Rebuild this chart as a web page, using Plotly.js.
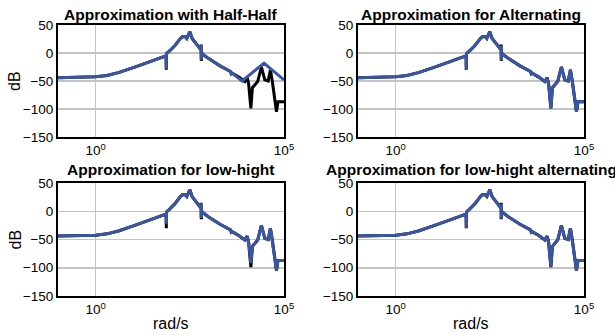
<!DOCTYPE html>
<html>
<head>
<meta charset="utf-8">
<script src="https://cdn.plot.ly/plotly-3.0.1.min.js"></script>
<style>html,body{margin:0;padding:0;background:#fff}#chart{width:615px;height:335px}</style>
</head>
<body>
<div id="chart"></div>
<script>
// Frequency grid (rad/s) for the exact response and the close approximations
const freq = [0.1, 0.316, 1, 2, 4, 10, 20, 31.6, 50, 70.8, 74, 75, 76, 89, 126, 178, 200, 240, 263, 316, 363, 501, 617, 630, 636, 650, 741, 1000, 2000, 3800, 3981, 4169, 6310, 9120, 10500, 11500, 13200, 14500, 20000, 25100, 30900, 38000, 43600, 49000, 63100, 69200, 100000];
// Exact system magnitude (dB), drawn in black
const exactDb = [-44, -43.5, -42.5, -40, -35, -26, -18, -14, -9, -6, -5, -30, -1, 3, 13, 26, 29, 29, 26, 38, 26, 14, 6, 15, -14, 0, -3.6, -10, -23, -33, -37, -36, -43, -51, -44, -55, -99, -62, -51, -25, -48, -50, -30, -51, -105, -87, -87];
// Approximation for Alternating (dB)
const altDb = [-44, -43.5, -42.5, -40, -35, -26, -18, -14, -9, -6, -5, -30, -1, 3, 13, 26, 29, 29, 26, 38, 26, 14, 6, 13, -13, 0, -3.6, -10, -23, -33, -37, -36, -43, -51, -45, -55, -99, -62, -51, -25, -48, -50, -30, -51, -105, -87, -87];
// Approximation for low-hight (dB)
const lowHighDb = [-44, -43.5, -42.5, -40, -35, -26, -18, -14, -9, -6, -5, -22, -1, 3, 13, 26, 29, 29, 26, 38, 26, 14, 6, 14, -12, 0, -3.6, -10, -23, -33, -37, -36, -43, -51, -45, -55, -92, -62, -51, -25, -48, -50, -30, -51, -104, -87, -87];
// Approximation for low-hight alternating (dB)
const lowHighAltDb = [-44, -43.5, -42.5, -40, -35, -26, -18, -14, -9, -6, -5, -29, -1, 3, 13, 26, 29, 29, 26, 38, 26, 14, 6, 13, -13, 0, -3.6, -10, -23, -33, -37, -36, -43, -51, -45, -55, -98, -62, -51, -25, -48, -50, -30, -51, -104, -87, -87];
// Approximation with Half-Half has its own grid
const halfFreq = [0.1, 0.316, 1, 2, 4, 10, 20, 31.6, 50, 70.8, 74, 75, 76, 89, 126, 178, 200, 240, 263, 316, 363, 501, 617, 630, 636, 650, 741, 1000, 2000, 3800, 3981, 4169, 7760, 29500, 100000];
const halfDb = [-44, -43.5, -42.5, -40, -35, -26, -18, -14, -9, -6, -5, -28, -1, 3, 13, 26, 29, 29, 26, 38, 26, 14, 6, 14, -12, 0, -3.6, -10, -23, -33, -37, -36, -50, -18, -48];

const titles = ["Approximation with Half-Half", "Approximation for Alternating", "Approximation for low-hight", "Approximation for low-hight alternating"];
const approxX = [halfFreq, freq, freq, freq];
const approxY = [halfDb, altDb, lowHighDb, lowHighAltDb];
const yTicks = [-150, -100, -50, 0, 50];
const xTickVals = [1, 100000];
const xTickText = ["10<sup>0</sup>", "10<sup>5</sup>"];

const BLUE = "#3a55a3";
const FONT = "Liberation Sans, Arial, sans-serif";
const xDomains = [[58/615, 284/615], [358/615, 584/615], [58/615, 284/615], [358/615, 584/615]];
const yDomains = [[1-137/335, 1-25/335], [1-137/335, 1-25/335], [1-296/335, 1-183/335], [1-296/335, 1-183/335]];

const data = [];
const layout = {
  width: 615, height: 335,
  margin: {l: 0, r: 0, t: 0, b: 0},
  paper_bgcolor: "#fff", plot_bgcolor: "#fff",
  showlegend: false,
  font: {family: FONT, size: 13, color: "#000"},
  annotations: []
};

for (let i = 0; i < 4; i++) {
  const s = i === 0 ? "" : String(i + 1);
  const xa = "x" + s, ya = "y" + s;
  data.push({x: freq, y: exactDb, xaxis: xa, yaxis: ya, mode: "lines", line: {color: "#000", width: 3}, hoverinfo: "skip"});
  data.push({x: approxX[i], y: approxY[i], xaxis: xa, yaxis: ya, mode: "lines", line: {color: BLUE, width: 3}, hoverinfo: "skip"});
  layout["xaxis" + s] = {
    domain: xDomains[i], anchor: ya, type: "log", range: [-1, 5],
    tickvals: xTickVals, ticktext: xTickText, ticks: "",
    showgrid: true, gridcolor: "#c4c4c4", gridwidth: 1.5,
    showline: true, linecolor: "#000", linewidth: 2, mirror: true,
    zeroline: false, tickfont: {family: FONT, size: 13.5, color: "#000"},
    title: {text: ""}
  };
  layout["yaxis" + s] = {
    domain: yDomains[i], anchor: xa, range: [-150, 50],
    tickvals: yTicks, ticks: "",
    showgrid: true, gridcolor: "#c4c4c4", gridwidth: 1.5,
    showline: true, linecolor: "#000", linewidth: 2, mirror: true,
    zeroline: false, tickfont: {family: FONT, size: 13.5, color: "#000"},
    title: {text: ""}
  };
  layout.annotations.push({
    text: "<b>" + titles[i] + "</b>", xref: "paper", yref: "paper",
    x: (xDomains[i][0] + xDomains[i][1]) / 2, y: yDomains[i][1],
    xanchor: "center", yanchor: "bottom", yshift: i >= 2 ? 3 : 0, showarrow: false,
    font: {family: FONT, size: 15.5, color: "#000"}
  });
  if (i % 2 === 0) {
    layout.annotations.push({
      text: "dB", xref: "paper", yref: "paper", textangle: -90,
      x: 15/615, y: (yDomains[i][0] + yDomains[i][1]) / 2,
      xanchor: "center", yanchor: "middle", showarrow: false,
      font: {family: FONT, size: 16, color: "#000"}
    });
  }
  if (i >= 2) {
    layout.annotations.push({
      text: "rad/s", xref: "paper", yref: "paper",
      x: (xDomains[i][0] + xDomains[i][1]) / 2, y: 1 - 323/335,
      xanchor: "center", yanchor: "middle", showarrow: false,
      font: {family: FONT, size: 16, color: "#000"}
    });
  }
}

Plotly.newPlot("chart", data, layout, {staticPlot: true, displayModeBar: false});
</script>
</body>
</html>
